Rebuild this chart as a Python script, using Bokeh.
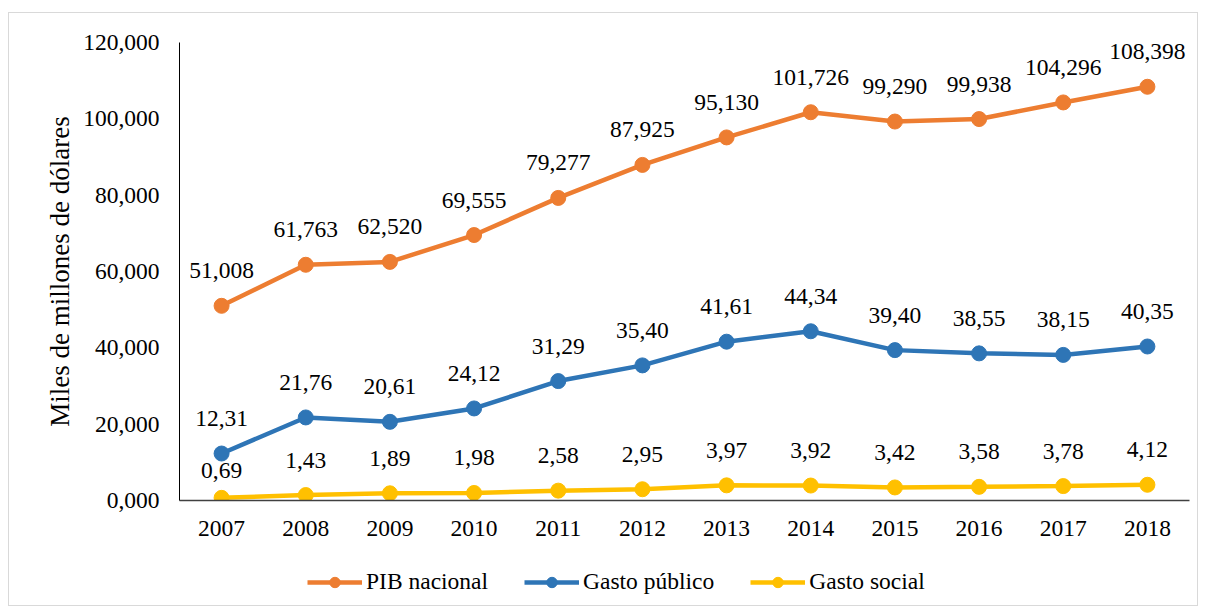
from bokeh.plotting import figure
from bokeh.layouts import column
from bokeh.models import ColumnDataSource, FixedTicker, Range1d, Legend, LegendItem
from bokeh.core.properties import value
from bokeh.embed import file_html
from bokeh.resources import INLINE

years = [2007, 2008, 2009, 2010, 2011, 2012, 2013, 2014, 2015, 2016, 2017, 2018]
pib_nacional = [51008, 61763, 62520, 69555, 79277, 87925, 95130, 101726, 99290, 99938, 104296, 108398]
gasto_publico = [12310, 21760, 20610, 24120, 31290, 35400, 41610, 44340, 39400, 38550, 38150, 40350]
gasto_social = [690, 1430, 1890, 1980, 2580, 2950, 3970, 3920, 3420, 3580, 3780, 4120]
y_ticks = [0, 20000, 40000, 60000, 80000, 100000, 120000]
y_tick_labels = ["0,000", "20,000", "40,000", "60,000", "80,000", "100,000", "120,000"]

FONT = "Liberation Serif"
FS = "23.5px"

p = figure(width=1188, height=532, output_backend="svg", toolbar_location=None,
           x_range=Range1d(2006.5, 2018.5), y_range=Range1d(0, 120000),
           min_border_left=170, min_border_right=8, min_border_top=29, min_border_bottom=45)
p.outline_line_color = None
p.xgrid.visible = False
p.ygrid.visible = False

p.yaxis.ticker = FixedTicker(ticks=y_ticks)
p.yaxis.major_label_overrides = {t: l for t, l in zip(y_ticks, y_tick_labels)}
p.xaxis.ticker = FixedTicker(ticks=years)
p.xaxis.major_label_overrides = {y: str(y) for y in years}
for ax in (p.xaxis, p.yaxis):
    ax.major_tick_out = 0
    ax.major_tick_in = 0
    ax.minor_tick_out = 0
    ax.minor_tick_in = 0
    ax.major_label_text_font = FONT
    ax.major_label_text_font_size = FS
    ax.major_label_text_color = "black"
p.yaxis.axis_line_color = "black"
p.xaxis.axis_line_color = "#404040"
p.yaxis.axis_line_width = 1
p.xaxis.axis_line_width = 1.5
p.yaxis.major_label_standoff = 20
p.xaxis.major_label_standoff = 20
p.yaxis.axis_label = "Miles de millones de dólares"
p.yaxis.axis_label_text_font = FONT
p.yaxis.axis_label_text_font_size = "27px"
p.yaxis.axis_label_text_font_style = "normal"
p.yaxis.axis_label_text_color = "black"
p.yaxis.axis_label_standoff = 5

series = [
    ("PIB nacional", pib_nacional, "#ED7D31", [f"{v:,}" for v in pib_nacional]),
    ("Gasto público", gasto_publico, "#2E75B6", [f"{v/1000:.2f}".replace(".", ",") for v in gasto_publico]),
    ("Gasto social", gasto_social, "#FFC000", [f"{v/1000:.2f}".replace(".", ",") for v in gasto_social]),
]
# label placement tweaks (pixels above the point); the first "Gasto social" label sits lower
label_dy = {("Gasto social", 0): -27}

# separate strip underneath holding the legend (its data lie outside its ranges)
lf = figure(width=1188, height=60, output_backend="svg", toolbar_location=None,
            x_range=Range1d(0, 1), y_range=Range1d(0, 1),
            min_border_left=0, min_border_right=0, min_border_top=0, min_border_bottom=0)
lf.axis.visible = False
lf.grid.visible = False
lf.outline_line_color = None

items = []
for name, vals, color, labels in series:
    dy = [label_dy.get((name, i), -35) for i in range(len(vals))]
    src = ColumnDataSource(dict(x=years, y=vals, lab=labels, dy=dy))
    p.line("x", "y", source=src, line_color=color, line_width=4.5)
    p.scatter("x", "y", source=src, size=15, fill_color=color, line_color=color)
    p.text("x", "y", text="lab", source=src, text_font=value(FONT), text_font_size=value(FS),
           text_align="center", text_baseline="alphabetic", y_offset="dy", text_color="black")
    l1 = lf.line("x", "y", source=src, line_color=color, line_width=4.5)
    l2 = lf.scatter("x", "y", source=src, size=14, fill_color=color, line_color=color)
    items.append(LegendItem(label=name, renderers=[l1, l2]))

legend = Legend(items=items, orientation="horizontal", location=(128, 10),
                label_text_font=FONT, label_text_font_size=FS, label_text_color="black",
                glyph_width=55, glyph_height=26, label_standoff=4, spacing=36,
                border_line_color=None, background_fill_alpha=0, margin=0, padding=0)
lf.add_layout(legend, "center")

layout = column(p, lf, spacing=0,
                styles={"border": "1px solid #d9d9d9", "margin-left": "8px", "margin-top": "12px"})

open("out.html", "w").write(file_html(layout, INLINE))
